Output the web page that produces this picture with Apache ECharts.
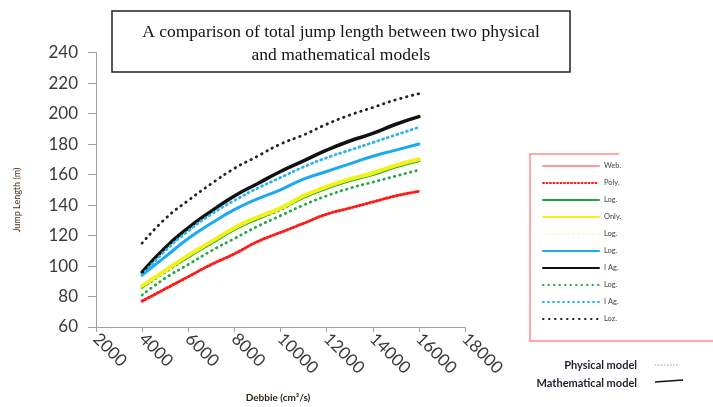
<!DOCTYPE html>
<html>
<head>
<meta charset="utf-8">
<script src="https://cdn.jsdelivr.net/npm/echarts@6/dist/echarts.min.js"></script>
<style>
html,body{margin:0;padding:0;background:#fff;}
#chart{width:713px;height:407px;}
</style>
</head>
<body>
<div id="chart"></div>
<script>
// Discharge (Debbie) values
const debbie = [4000, 5000, 6000, 7000, 8000, 9000, 10000, 11000, 12000, 13000, 14000, 15000, 16000];

// Series values (jump length, m)
const webLine     = [77, 85, 93, 101, 108, 116, 122, 128, 134, 138, 142, 146, 149];
const polyRed     = [77, 85, 93, 101, 108, 116, 122, 128, 134, 138, 142, 146, 149];
const logGreen    = [86, 96, 106, 115, 124, 131, 137, 145, 151, 156, 160, 165, 169];
const onlyYellow  = [87, 97, 107, 116, 125, 132, 138, 146, 152, 157, 161, 166, 170];
const logPaleDot  = [84, 95, 104, 113, 121, 129, 136, 143, 149, 154, 158, 163, 167];
const logBlue     = [94, 106, 118, 128, 137, 144, 150, 157, 162, 167, 172, 176, 180];
const agBlack     = [96, 112, 125, 136, 146, 154, 162, 169, 176, 182, 187, 193, 198];
const logGreenDot = [81, 92, 101, 110, 118, 126, 133, 140, 146, 151, 155, 159, 163];
const agBlueDot   = [94, 110, 123, 134, 143, 151, 158, 165, 171, 176, 181, 186, 191];
const lozBlackDot = [115, 131, 143, 154, 164, 172, 180, 186, 193, 199, 204, 209, 213];

// Tick settings
const xMin = 2000, xMax = 18000, xStep = 2000;
const yMin = 60, yMax = 240, yStep = 20;

const pair = arr => debbie.map((d, i) => [d, arr[i]]);

const seriesDefs = [
  {name: 'Web.|0', data: webLine, color: '#ff9a9a', width: 1.5, type: 'solid'},
  {name: 'Poly.|1', data: polyRed, color: '#ff1a1a', width: 3, type: [1, 2.5]},
  {name: 'Log.|2', data: logGreen, color: '#1aa83a', width: 3, type: 'solid'},
  {name: 'Only.|3', data: onlyYellow, color: '#f2f21a', width: 4, type: 'solid'},
  {name: 'Log.|4', data: logPaleDot, color: '#fbfbd0', width: 2, type: [1, 4]},
  {name: 'Log.|5', data: logBlue, color: '#1aaaf0', width: 3, type: 'solid'},
  {name: 'I Ag.|6', data: agBlack, color: '#111111', width: 3.5, type: 'solid'},
  {name: 'Log.|7', data: logGreenDot, color: '#22a84a', width: 2.8, type: [0.5, 5]},
  {name: 'I Ag.|8', data: agBlueDot, color: '#2ab4f0', width: 2.8, type: [1, 4]},
  {name: 'Loz.|9', data: lozBlackDot, color: '#222222', width: 2.8, type: [0.5, 5.5]}
];

const chart = echarts.init(document.getElementById('chart'), null, {renderer: 'canvas'});

const option = {
  backgroundColor: '#ffffff',
  animation: false,
  grid: {left: 96, right: 248, top: 52.6, bottom: 80, containLabel: false},
  xAxis: {
    type: 'value', min: xMin, max: xMax, interval: xStep,
    axisLine: {show: true, lineStyle: {color: '#a0a0a0', width: 1}},
    axisTick: {show: true, length: 5, lineStyle: {color: '#a0a0a0'}},
    splitLine: {show: false},
    axisLabel: {rotate: -45, fontFamily: 'Lato', fontSize: 17, color: '#3a3a3a', margin: 9,
      formatter: v => String(v)}
  },
  yAxis: {
    type: 'value', min: yMin, max: yMax, interval: yStep,
    axisLine: {show: true, lineStyle: {color: '#a0a0a0', width: 1}},
    axisTick: {show: true, length: 8, lineStyle: {color: '#a0a0a0'}},
    splitLine: {show: false},
    axisLabel: {fontFamily: 'Lato', fontSize: 17, color: '#3a3a3a', margin: 18,
      formatter: v => String(v)}
  },
  legend: {
    show: true, type: 'plain',
    orient: 'vertical', left: 537, top: 157,
    itemWidth: 56, itemHeight: 10, itemGap: 9,
    data: seriesDefs.map(s => s.name),
    formatter: n => n.split('|')[0],
    itemStyle: {opacity: 0},
    textStyle: {fontFamily: 'Lato', fontSize: 7.5, color: '#444'},
    selectedMode: false
  },
  series: seriesDefs.map(s => ({
    name: s.name, type: 'line', data: pair(s.data), smooth: true,
    showSymbol: false, symbol: 'none',
    itemStyle: {color: s.color},
    lineStyle: {color: s.color, width: s.width, type: s.type, cap: 'round'}
  })),
  graphic: [
    {type: 'rect', shape: {x: 112, y: 11, width: 458, height: 61},
     style: {fill: '#fff', stroke: '#222', lineWidth: 1.5}, z: 10},
    {type: 'text', x: 341, y: 32, z: 11,
     style: {text: 'A comparison of total jump length between two physical', fontFamily: 'Liberation Serif', fontSize: 17.5, fill: '#111', align: 'center', verticalAlign: 'middle'}},
    {type: 'text', x: 341, y: 55, z: 11,
     style: {text: 'and mathematical models', fontFamily: 'Liberation Serif', fontSize: 17.5, fill: '#111', align: 'center', verticalAlign: 'middle'}},
    {type: 'text', x: 17, y: 200, rotation: Math.PI / 2, z: 11,
     style: {text: 'Jump Length (m)', fontFamily: 'Lato', fontSize: 9, fill: '#4a2e14', align: 'center', verticalAlign: 'middle'}},
    {type: 'text', x: 278, y: 398, z: 11,
     style: {text: 'Debbie (cm\u00b3/s)', fontFamily: 'Lato', fontSize: 10, fontWeight: 'bold', fill: '#2e2418', align: 'center', verticalAlign: 'middle'}},
    {type: 'polyline', shape: {points: [[619, 154], [530, 154], [530, 341], [713, 341]]},
     style: {stroke: '#ff8c8c', lineWidth: 1.5, fill: null}, z: 5},
    {type: 'text', x: 637, y: 365, z: 11,
     style: {text: 'Physical model', fontFamily: 'Lato', fontSize: 11, fontWeight: 'bold', fill: '#1e1e2e', align: 'right', verticalAlign: 'middle'}},
    {type: 'text', x: 637, y: 383, z: 11,
     style: {text: 'Mathematical model', fontFamily: 'Lato', fontSize: 11, fontWeight: 'bold', fill: '#1e1e2e', align: 'right', verticalAlign: 'middle'}},
    {type: 'line', shape: {x1: 655, y1: 365, x2: 678, y2: 365},
     style: {stroke: '#999', lineWidth: 1, lineDash: [1.5, 1.5]}, z: 11},
    {type: 'line', shape: {x1: 655, y1: 382, x2: 683, y2: 380},
     style: {stroke: '#111', lineWidth: 1.5}, z: 11}
  ]
};

chart.setOption(option);
</script>
</body>
</html>
